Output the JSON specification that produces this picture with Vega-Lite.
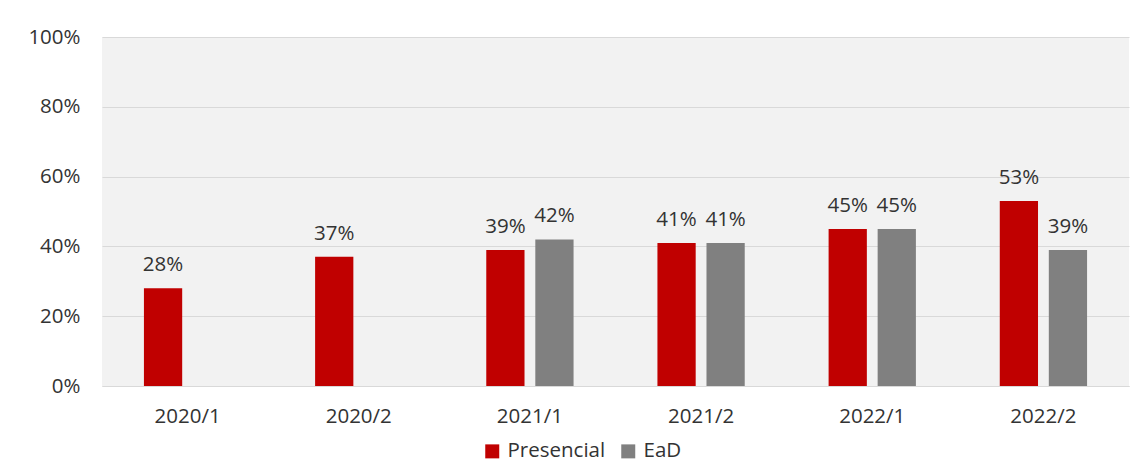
{
  "$schema": "https://vega.github.io/schema/vega-lite/v6.json",
  "autosize": {"type": "none"},
  "width": 1027,
  "height": 349,
  "padding": {"left": 102, "top": 37, "right": 15, "bottom": 90},
  "background": "white",
  "config": {
    "view": {"fill": "#f2f2f2", "stroke": null},
    "font": "Open Sans"
  },
  "data": {
    "values": [
      {"periodo": "2020/1", "modalidade": "Presencial", "valor": 0.28},
      {"periodo": "2020/2", "modalidade": "Presencial", "valor": 0.37},
      {"periodo": "2021/1", "modalidade": "Presencial", "valor": 0.39},
      {"periodo": "2021/1", "modalidade": "EaD", "valor": 0.42},
      {"periodo": "2021/2", "modalidade": "Presencial", "valor": 0.41},
      {"periodo": "2021/2", "modalidade": "EaD", "valor": 0.41},
      {"periodo": "2022/1", "modalidade": "Presencial", "valor": 0.45},
      {"periodo": "2022/1", "modalidade": "EaD", "valor": 0.45},
      {"periodo": "2022/2", "modalidade": "Presencial", "valor": 0.53},
      {"periodo": "2022/2", "modalidade": "EaD", "valor": 0.39}
    ]
  },
  "encoding": {
    "x": {
      "field": "periodo", "type": "nominal", "title": null,
      "scale": {"paddingInner": 0.49, "paddingOuter": 0.245},
      "axis": {"labelAngle": 0, "ticks": false, "domain": true, "domainColor": "#d9d9d9", "labelFontSize": 20.5, "labelColor": "#333333", "labelPadding": 20, "labelFont": "Open Sans", "labelOverlap": false}
    },
    "xOffset": {
      "field": "modalidade", "type": "nominal",
      "sort": ["Presencial", "EaD"],
      "scale": {"domain": ["Presencial", "EaD"], "paddingInner": 0.22, "paddingOuter": 0}
    },
    "y": {
      "field": "valor", "type": "quantitative", "title": null,
      "scale": {"domain": [0, 1]},
      "axis": {"format": ".0%", "values": [0, 0.2, 0.4, 0.6, 0.8, 1], "ticks": false, "domain": false, "gridColor": "#d9d9d9", "labelFontSize": 20.5, "labelColor": "#333333", "labelPadding": 22, "labelFont": "Open Sans", "labelOverlap": false, "labelBound": false, "labelFlush": false}
    }
  },
  "layer": [
    {
      "mark": {"type": "bar"},
      "encoding": {
        "color": {
          "field": "modalidade", "type": "nominal",
          "scale": {"domain": ["Presencial", "EaD"], "range": ["#c00000", "#808080"]},
          "legend": {
            "title": null, "orient": "none", "direction": "horizontal",
            "legendX": 380, "legendY": 404,
            "symbolType": "square", "symbolSize": 196, "symbolStrokeWidth": 0,
            "labelFontSize": 20.5, "labelColor": "#333333", "labelFont": "Open Sans",
            "columnPadding": 12, "symbolOffset": 0, "labelOffset": 5
          }
        }
      }
    },
    {
      "mark": {"type": "text", "baseline": "alphabetic", "dy": -17, "fontSize": 20.5, "color": "#333333", "font": "Open Sans"},
      "encoding": {
        "text": {"field": "valor", "type": "quantitative", "format": ".0%"}
      }
    }
  ]
}
